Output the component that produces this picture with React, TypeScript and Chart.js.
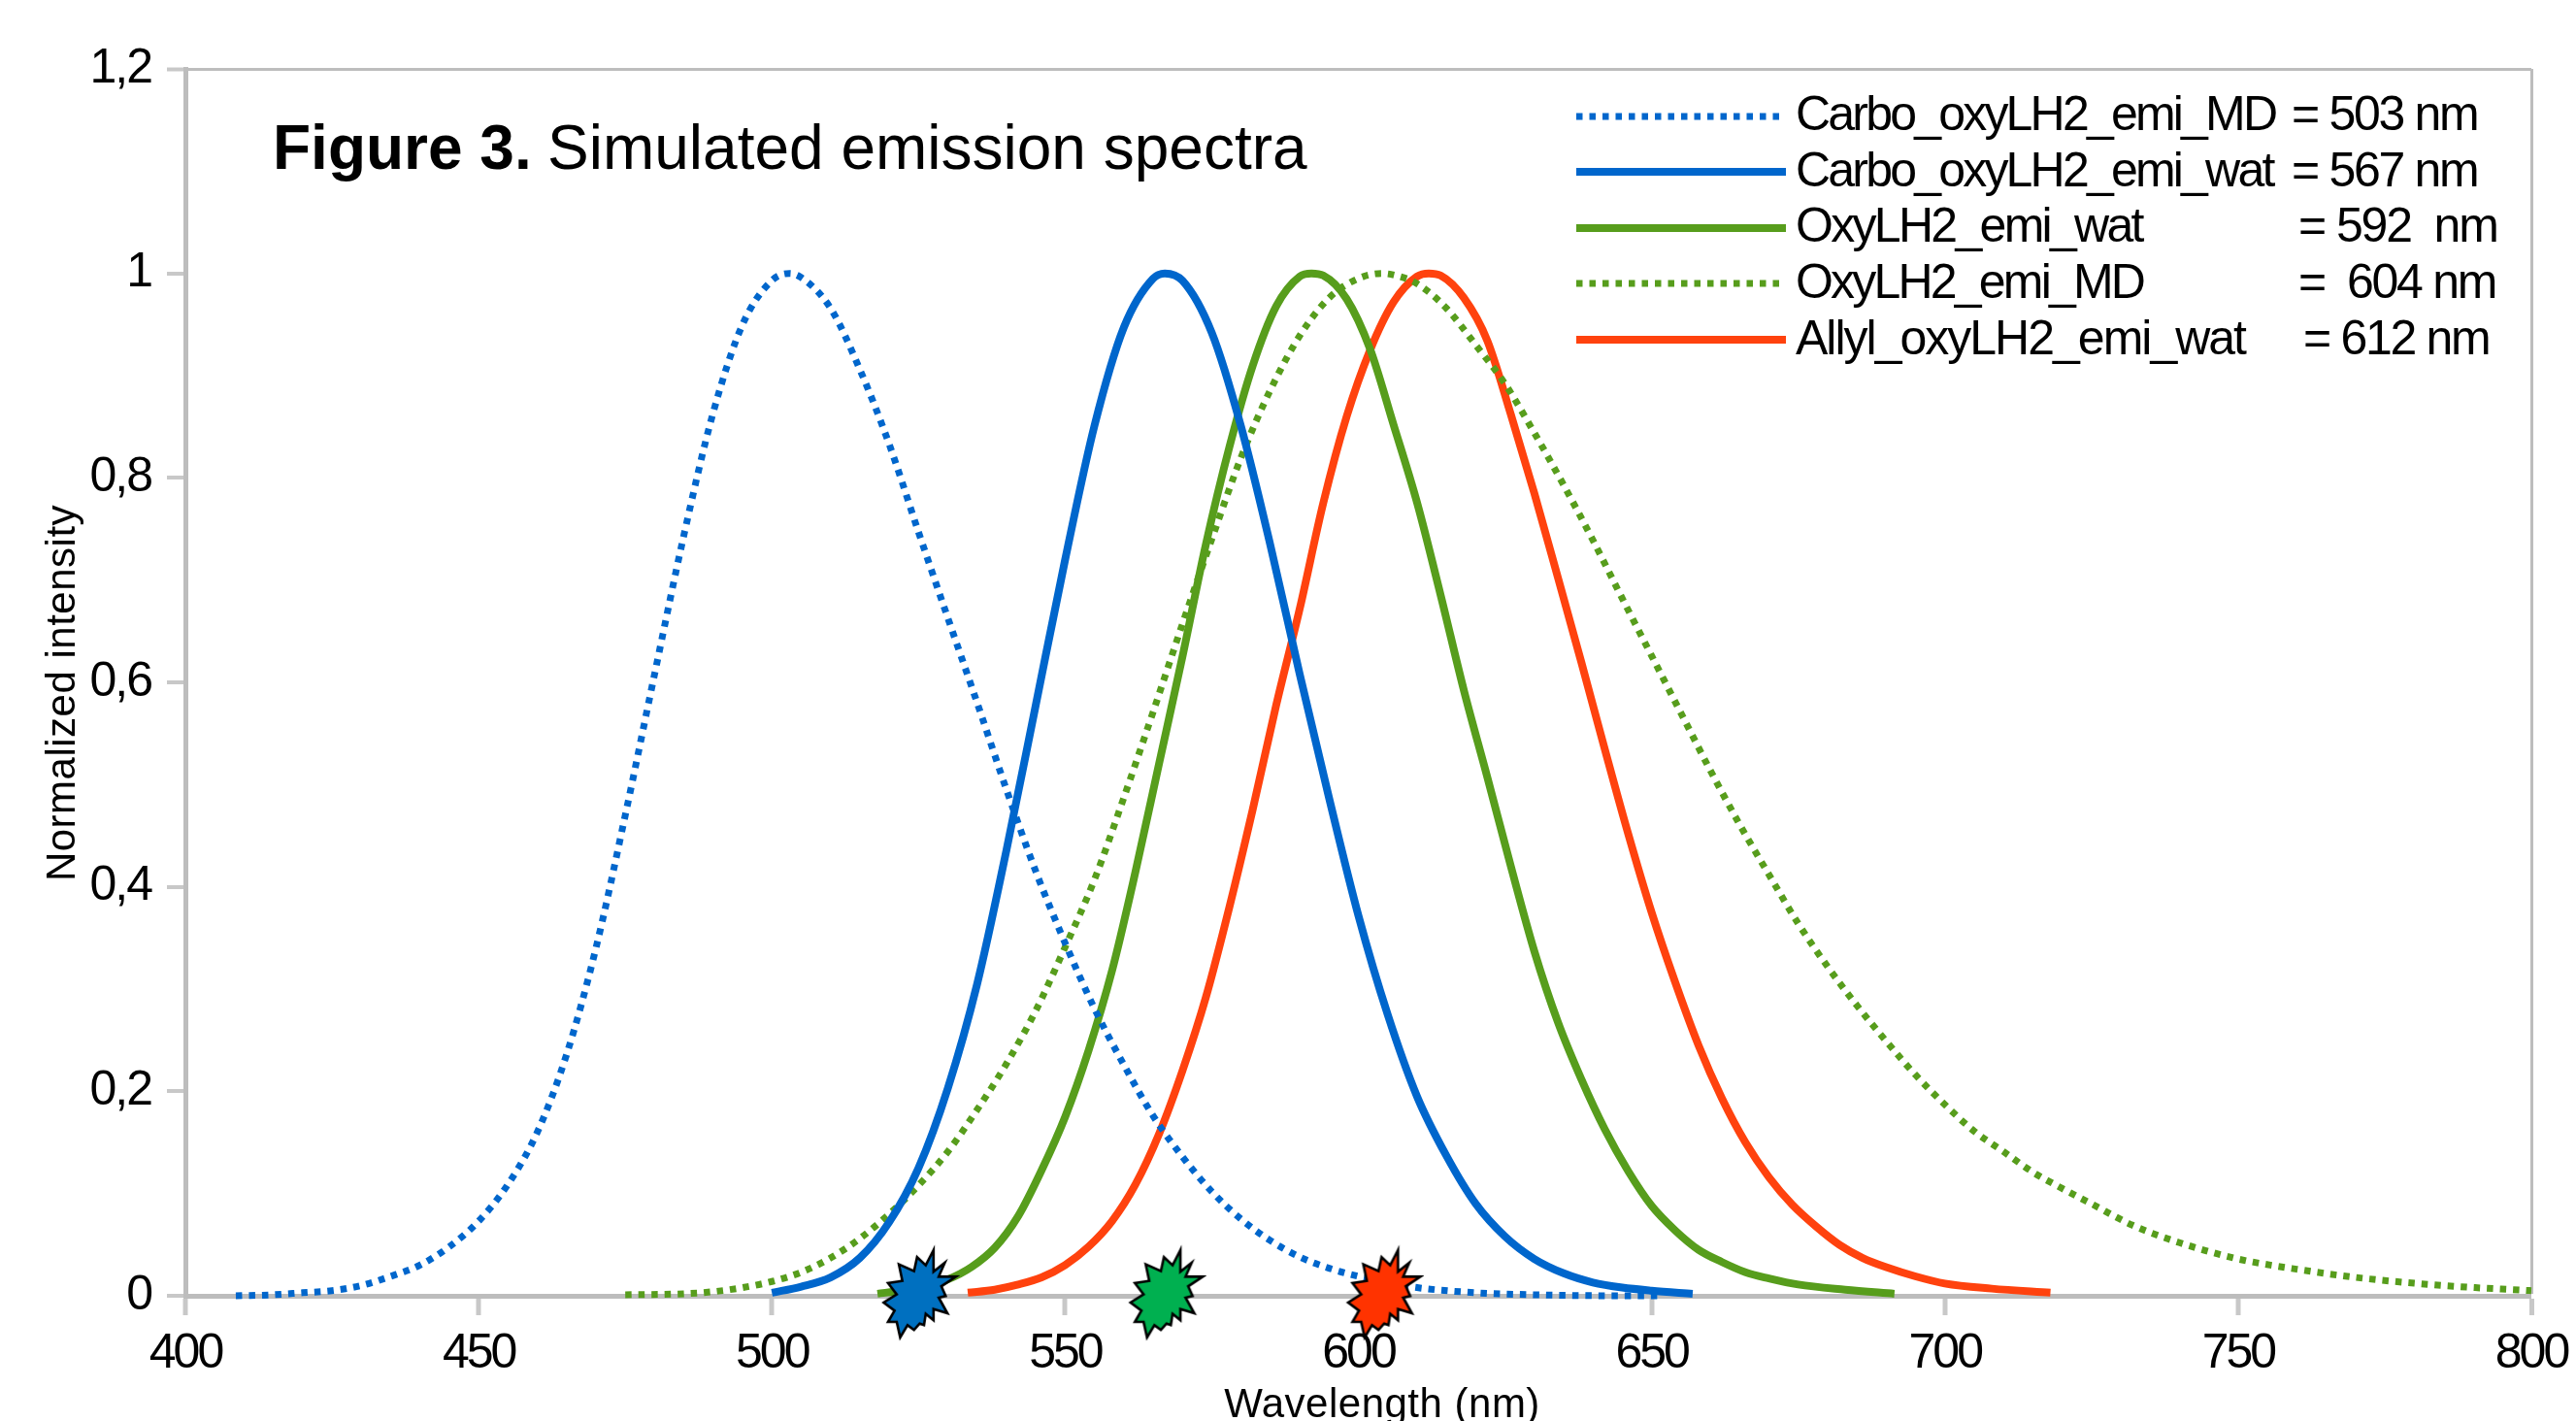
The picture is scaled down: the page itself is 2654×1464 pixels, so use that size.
import React, { useEffect, useRef } from "react";
import { Chart, registerables } from "chart.js";

Chart.register(...registerables);

const carboMdX = [408.6,415,420,425,430,435,440,445,450,455,460,465,470,475,480,485,490,495,500,503,505,510,515,520,525,530,535,540,545,550,555,560,565,570,575,580,585,590,595,600,605,610,620,630,645,652];
const carboMdY = [0,0.001,0.003,0.005,0.01,0.019,0.03,0.048,0.073,0.109,0.16,0.236,0.34,0.47,0.608,0.744,0.864,0.95,0.993,1,0.996,0.966,0.906,0.833,0.747,0.663,0.58,0.495,0.415,0.345,0.281,0.226,0.176,0.136,0.102,0.075,0.054,0.038,0.027,0.019,0.013,0.008,0.003,0.001,0,0];

const carboWatX = [500,505,510,515,520,525,530,535,540,545,550,555,560,565,567,570,575,580,585,590,595,600,605,610,615,620,625,630,635,640,645,650,657];
const carboWatY = [0.003,0.009,0.018,0.037,0.072,0.125,0.203,0.305,0.436,0.578,0.72,0.851,0.947,0.995,1,0.993,0.942,0.85,0.734,0.608,0.487,0.372,0.275,0.195,0.137,0.09,0.058,0.036,0.022,0.013,0.008,0.005,0.002];

const oxyWatX = [518,522,526,530,534,538,542,546,550,554,558,562,566,570,574,578,582,586,590,592,594,598,602,606,610,614,618,622,626,630,634,638,642,646,650,654,658,662,666,670,675,683,691.4];
const oxyWatY = [0.002,0.005,0.009,0.016,0.028,0.047,0.078,0.123,0.175,0.24,0.318,0.415,0.52,0.625,0.735,0.83,0.91,0.968,0.997,1,0.998,0.975,0.926,0.852,0.776,0.686,0.592,0.507,0.42,0.337,0.268,0.212,0.163,0.122,0.088,0.064,0.045,0.033,0.023,0.017,0.011,0.006,0.002];

const oxyMdX = [475,485,490,495,500,505,510,515,520,525,530,535,540,545,550,555,560,565,570,575,580,585,590,595,600,604,607,610,615,620,625,630,635,640,645,650,655,660,665,670,675,680,685,690,695,700,705,710,715,720,725,732,740,750,760,770,785,800];
const oxyMdY = [0.001,0.002,0.004,0.008,0.014,0.023,0.037,0.056,0.08,0.108,0.141,0.182,0.227,0.279,0.341,0.407,0.487,0.571,0.657,0.74,0.82,0.886,0.939,0.976,0.995,1,0.997,0.99,0.966,0.93,0.892,0.844,0.793,0.739,0.682,0.626,0.57,0.514,0.461,0.412,0.364,0.322,0.284,0.249,0.216,0.187,0.161,0.141,0.121,0.105,0.09,0.069,0.052,0.036,0.026,0.018,0.01,0.005];

const allylWatX = [533.4,538,542,546,550,554,558,562,566,570,574,578,582,586,590,594,598,602,606,610,612,614,618,622,626,630,634,638,642,646,650,654,658,662,666,670,674,678,682,686,690,695,700,708,718];
const allylWatY = [0.003,0.006,0.011,0.018,0.03,0.048,0.073,0.109,0.158,0.22,0.292,0.38,0.476,0.578,0.672,0.775,0.86,0.925,0.972,0.997,1,0.998,0.976,0.934,0.862,0.785,0.703,0.62,0.535,0.452,0.375,0.307,0.245,0.193,0.15,0.116,0.089,0.068,0.05,0.037,0.028,0.019,0.012,0.007,0.003];

const starX = [524.6, 566.7, 603.8];
const starY = [0.003, 0.003, 0.003];

const legendNames = ["Carbo_oxyLH2_emi_MD", "Carbo_oxyLH2_emi_wat", "OxyLH2_emi_wat", "OxyLH2_emi_MD", "Allyl_oxyLH2_emi_wat"];
const legendValues = ["= 503 nm", "= 567 nm", "= 592  nm", "=  604 nm", "= 612 nm"];
const titleBold = "Figure 3.";
const titleRest = "Simulated emission spectra";
const xAxisTitle = "Wavelength (nm)";
const yAxisTitle = "Normalized intensity";

const BLUE = "#0066cc";
const GREEN = "#579d1c";
const ORANGE = "#ff420e";
const FONT = '"Liberation Sans", Arial, sans-serif';

const pts = (xs: number[], ys: number[]) => xs.map((x, i) => ({ x, y: ys[i] }));

const STAR_SHAPE = [[250,203],[232,250],[212,225],[205,268],[170,247],[178,298],[145,305],[165,340],[135,365],[160,390],[145,425],[165,425],[173,473],[190,435],[205,450],[218,430],[228,435],[232,400],[250,420],[250,385],[282,398],[262,350],[278,345],[268,315],[302,285],[262,285],[276,242],[250,270]];

function makeStar(fill: string) {
  const c = document.createElement("canvas");
  c.width = 90;
  c.height = 100;
  const g = c.getContext("2d")!;
  g.beginPath();
  STAR_SHAPE.forEach(([X, Y], i) => {
    const px = 45 + (X - 210) / 2.24;
    const py = 50 + (Y - 335) / 3;
    if (i === 0) g.moveTo(px, py);
    else g.lineTo(px, py);
  });
  g.closePath();
  g.fillStyle = fill;
  g.fill();
  g.strokeStyle = "#000";
  g.lineWidth = 2.6;
  g.lineJoin = "miter";
  g.stroke();
  return c;
}

const decor = {
  id: "decor",
  beforeDraw(chart: any) {
    const ctx = chart.ctx;
    const spacing: Record<string, string> = { x: "-3px", y: "-2px" };
    for (const id of ["x", "y"]) {
      const s = chart.scales[id];
      if (s.__wrapped) continue;
      const orig = s.drawLabels;
      s.drawLabels = function (area: any) {
        ctx.letterSpacing = spacing[id];
        orig.call(this, area);
        ctx.letterSpacing = "0px";
      };
      s.__wrapped = true;
    }
  },
  afterDraw(chart: any) {
    const ctx = chart.ctx;
    ctx.save();
    ctx.fillStyle = "#000";
    ctx.textBaseline = "alphabetic";
    ctx.textAlign = "left";
    ctx.font = `bold 64px ${FONT}`;
    ctx.fillText(titleBold, 281, 174);
    ctx.font = `64px ${FONT}`;
    ctx.fillText(titleRest, 564, 174);
    ctx.font = `42px ${FONT}`;
    ctx.letterSpacing = "0.5px";
    ctx.textAlign = "center";
    ctx.fillText(xAxisTitle, 1424, 1460);
    ctx.translate(77, 714);
    ctx.rotate(-Math.PI / 2);
    ctx.fillText(yAxisTitle, 0, 0);
    ctx.restore();
    ctx.save();
    const colors = [BLUE, BLUE, GREEN, GREEN, ORANGE];
    const dotted = [true, false, false, true, false];
    const lineY = [120, 177, 235, 292, 350];
    const baseY = [134, 192, 249, 307, 365];
    const valueX = [2361, 2361, 2368, 2368, 2373];
    const nameSpacing = [-2.8, -2.8, -2.7, -2.8, -2.0];
    const valueSpacing = [-2.3, -2.3, -2.1, -2.3, -2.3];
    legendNames.forEach((name, i) => {
      ctx.beginPath();
      ctx.setLineDash(dotted[i] ? [6.5, 7] : []);
      ctx.strokeStyle = colors[i];
      ctx.lineWidth = dotted[i] ? 7 : 8;
      ctx.moveTo(1624, lineY[i]);
      ctx.lineTo(1840, lineY[i]);
      ctx.stroke();
      ctx.fillStyle = "#000";
      ctx.font = `50px ${FONT}`;
      ctx.textAlign = "left";
      ctx.letterSpacing = `${nameSpacing[i]}px`;
      ctx.fillText(name, 1850, baseY[i]);
      ctx.letterSpacing = `${valueSpacing[i]}px`;
      ctx.fillText(legendValues[i], valueX[i], baseY[i]);
    });
    ctx.restore();
  },
};

const lineDs = (label: string, xs: number[], ys: number[], color: string, dot: boolean) => ({
  label,
  data: pts(xs, ys),
  showLine: true,
  borderColor: color,
  backgroundColor: color,
  borderWidth: dot ? 7 : 8,
  borderDash: dot ? [6.5, 7] : [],
  borderJoinStyle: "round" as const,
  pointRadius: 0,
  cubicInterpolationMode: "monotone" as const,
  clip: false as const,
});

export default function App() {
  const ref = useRef<HTMLCanvasElement | null>(null);
  useEffect(() => {
    const stars = [makeStar("#0070c0"), makeStar("#00b050"), makeStar("#ff3300")];
    const axisColor = "#bdbdbd";
    const chart = new Chart(ref.current!, {
      type: "scatter",
      data: {
        datasets: [
          {
            label: "stars",
            data: pts(starX, starY),
            showLine: false,
            pointStyle: stars as any,
            pointRadius: 45,
            clip: false as const,
          },
          lineDs(legendNames[0], carboMdX, carboMdY, BLUE, true),
          lineDs(legendNames[1], carboWatX, carboWatY, BLUE, false),
          lineDs(legendNames[3], oxyMdX, oxyMdY, GREEN, true),
          lineDs(legendNames[2], oxyWatX, oxyWatY, GREEN, false),
          lineDs(legendNames[4], allylWatX, allylWatY, ORANGE, false),
        ] as any,
      },
      options: {
        animation: false,
        responsive: false,
        maintainAspectRatio: false,
        devicePixelRatio: 1,
        layout: { padding: { top: 71, right: 46, bottom: 0, left: 0 } },
        plugins: { legend: { display: false }, title: { display: false }, tooltip: { enabled: false } },
        scales: {
          x: {
            type: "linear",
            min: 400,
            max: 800,
            afterFit: (s: any) => { s.height = 129; s.paddingRight = 0; s.paddingLeft = 0; },
            border: { color: axisColor, width: 5 },
            grid: {
              drawOnChartArea: true,
              drawTicks: true,
              tickLength: 20,
              tickWidth: 5,
              tickColor: "#c8c8c8",
              color: axisColor,
              lineWidth: (c: any) => (c.index === c.scale.ticks.length - 1 ? 3 : 0),
            },
            ticks: {
              stepSize: 50,
              color: "#000",
              padding: 10,
              maxRotation: 0,
              font: { family: FONT, size: 50 },
              callback: (v: any) => String(v),
            },
          },
          y: {
            type: "linear",
            min: 0,
            max: 1.2,
            afterFit: (s: any) => { s.width = 191; },
            border: { color: axisColor, width: 5 },
            grid: {
              drawOnChartArea: true,
              drawTicks: true,
              tickLength: 19,
              tickWidth: 4,
              tickColor: "#c8c8c8",
              color: axisColor,
              lineWidth: (c: any) => (c.index === c.scale.ticks.length - 1 ? 3 : 0),
            },
            ticks: {
              stepSize: 0.2,
              color: "#000",
              padding: 16,
              font: { family: FONT, size: 50 },
              callback: (v: any) => String(+Number(v).toFixed(1)).replace(".", ","),
            },
          },
        },
      },
      plugins: [decor],
    } as any);
    return () => chart.destroy();
  }, []);
  return (
    <div style={{ position: "absolute", left: 0, top: 0, width: 2654, height: 1464, background: "#fff", overflow: "hidden" }}>
      <canvas ref={ref} width={2654} height={1464} style={{ display: "block" }} />
    </div>
  );
}
